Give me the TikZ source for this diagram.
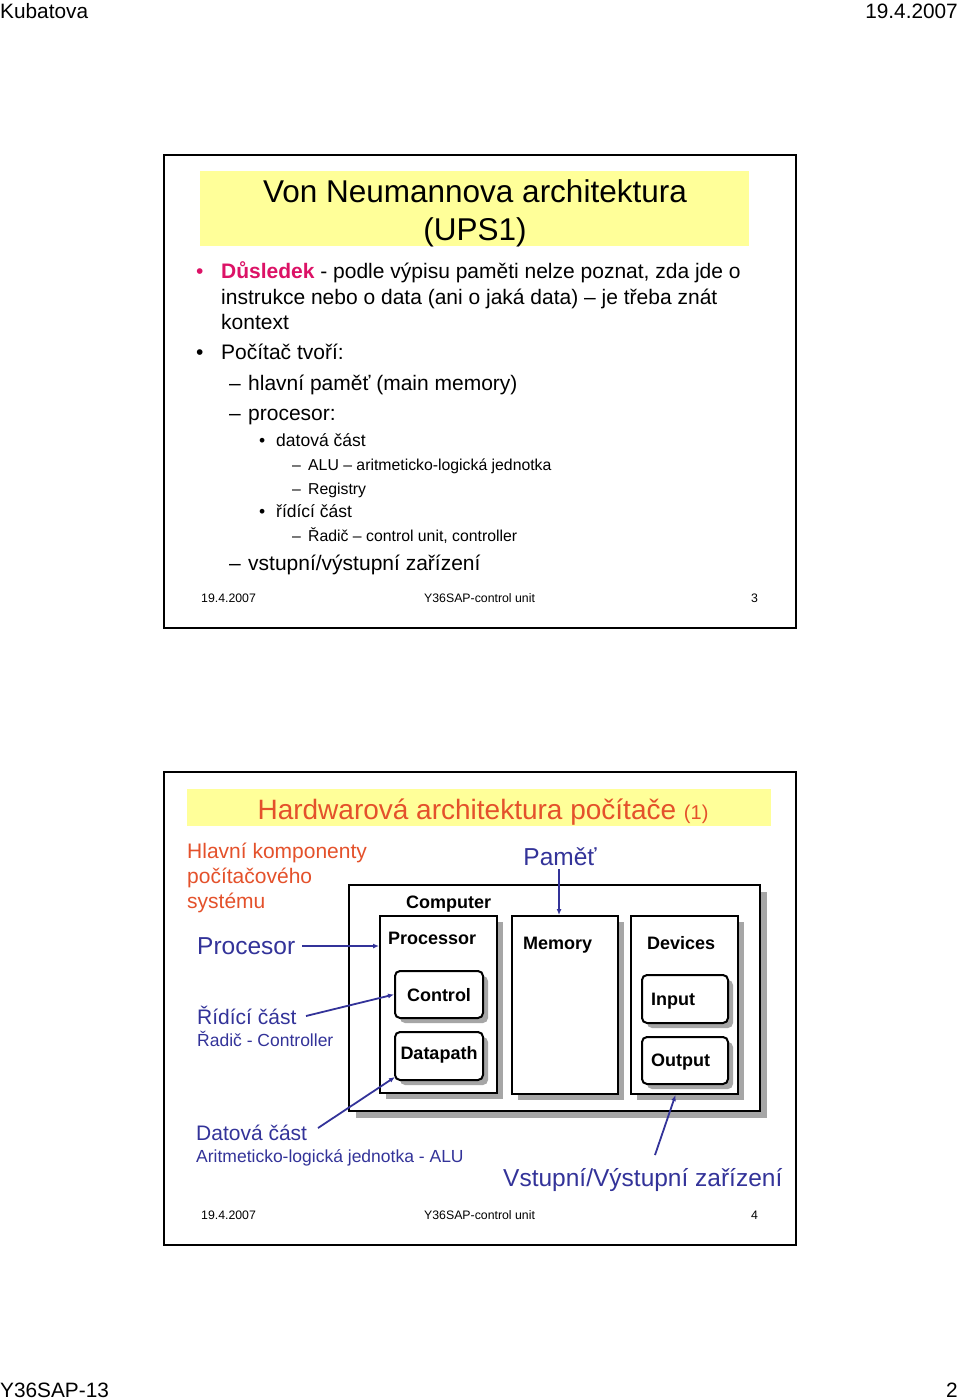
\documentclass[tikz,border=0pt]{standalone}
\usepackage{fontspec}
\setmainfont{Liberation Sans}
\usetikzlibrary{arrows.meta,shadows,calc}
\definecolor{ttlyellow}{HTML}{FFFF99}
\definecolor{hotpink}{HTML}{DC1266}
\definecolor{orangered}{HTML}{E4512B}
\definecolor{navy}{HTML}{333399}
\definecolor{shadowgray}{HTML}{A6A6A6}
\begin{document}
\begin{tikzpicture}[x=1pt,y=-1pt,
  txt/.style={anchor=base west,inner sep=0pt},
  ctxt/.style={anchor=base,inner sep=0pt},
  rtxt/.style={anchor=base east,inner sep=0pt},
  fs/.style={font=\fontsize{#1}{#1}\selectfont},
  bfs/.style={font=\fontsize{#1}{#1}\selectfont\bfseries},
  frame/.style={draw=black,line width=2pt,fill=white,inner sep=0pt},
  ybar/.style={fill=ttlyellow,draw=none,inner sep=0pt},
  bigbox/.style={draw=black,line width=2pt,fill=white,inner sep=0pt,
    drop shadow={shadow xshift=7pt,shadow yshift=-7pt,fill=shadowgray,opacity=1}},
  midbox/.style={draw=black,line width=2pt,fill=white,inner sep=0pt,
    drop shadow={shadow xshift=6pt,shadow yshift=-6pt,fill=shadowgray,opacity=1}},
  rbox/.style={draw=black,line width=2pt,fill=white,inner sep=0pt,rounded corners=5pt,
    drop shadow={shadow xshift=5pt,shadow yshift=-5pt,fill=shadowgray,opacity=1}},
  arr/.style={draw=navy,line width=1.8pt,-{Latex[length=6pt,width=5pt]}}
]
\useasboundingbox (0,0) rectangle (960,1399);
\fill[white] (0,0) rectangle (960,1399);

% page header / footer
\node[txt,fs=20.8] (hk) at (0,19) {Kubatova};
\node[rtxt,fs=20.8] (hd) at (958,19) {19.4.2007};
\node[txt,fs=20.8] (fy) at (0,1397) {Y36SAP-13};
\node[rtxt,fs=20.8] (fp) at (958,1397) {2};

% ---------------- slide 1 ----------------
\node[frame,minimum width=632,minimum height=473] (s1) at (480,391.5) {};
\node[ybar,minimum width=549,minimum height=75] (t1bg) at (474.5,208.5) {};
\node[ctxt,fs=31.5] (t1a) at (475,202) {Von Neumannova architektura};
\node[ctxt,fs=31.5] (t1b) at (475,240) {(UPS1)};

\node[txt,fs=21,text=hotpink] (b1) at (196,278) {•};
\node[txt,fs=21] (l1) at (221,278) {\textcolor{hotpink}{\bfseries Důsledek} - podle výpisu paměti nelze poznat, zda jde o};
\node[txt,fs=21] (l2) at (221,304) {instrukce nebo o data (ani o jaká data) – je třeba znát};
\node[txt,fs=21] (l3) at (221,329) {kontext};
\node[txt,fs=21] (b2) at (196,359) {•};
\node[txt,fs=21] (l4) at (221,359) {Počítač tvoří:};
\node[txt,fs=21] (d1) at (229,390) {–};
\node[txt,fs=21] (l5) at (248,390) {hlavní paměť (main memory)};
\node[txt,fs=21] (d2) at (229,420) {–};
\node[txt,fs=21] (l6) at (248,420) {procesor:};
\node[txt,fs=17.5] (sb1) at (259,446) {•};
\node[txt,fs=17.5] (l7) at (276,446) {datová část};
\node[txt,fs=15.8] (sd1) at (292,470) {–};
\node[txt,fs=15.8] (l8) at (308,470) {ALU – aritmeticko-logická jednotka};
\node[txt,fs=15.8] (sd2) at (292,494) {–};
\node[txt,fs=15.8] (l9) at (308,494) {Registry};
\node[txt,fs=17.5] (sb2) at (259,517) {•};
\node[txt,fs=17.5] (l10) at (276,517) {řídící část};
\node[txt,fs=15.8] (sd3) at (292,541) {–};
\node[txt,fs=15.8] (l11) at (308,541) {Řadič – control unit, controller};
\node[txt,fs=21] (d3) at (229,570) {–};
\node[txt,fs=21] (l12) at (248,570) {vstupní/výstupní zařízení};

\node[txt,fs=12.3] (f1a) at (201,602) {19.4.2007};
\node[txt,fs=12.3] (f1b) at (424,602) {Y36SAP-control unit};
\node[txt,fs=12.3] (f1c) at (751,602) {3};

% ---------------- slide 2 ----------------
\node[frame,minimum width=632,minimum height=473] (s2) at (480,1008.5) {};
\node[ybar,minimum width=584,minimum height=37] (t2bg) at (479,807.5) {};
\node[ctxt,fs=28,text=orangered] (t2) at (483,819) {Hardwarová architektura počítače {\fontsize{20}{20}\selectfont (1)}};

\node[txt,fs=21,text=orangered] (h1) at (187,858) {Hlavní komponenty};
\node[txt,fs=21,text=orangered] (h2) at (187,883) {počítačového};
\node[txt,fs=21,text=orangered] (h3) at (187,908) {systému};

\node[txt,fs=24.5,text=navy] (procl) at (197,954) {Procesor};
\node[txt,fs=21,text=navy] (ridl) at (197,1024) {Řídící část};
\node[txt,fs=17.5,text=navy] (radl) at (197,1046) {Řadič - Controller};
\node[txt,fs=21,text=navy] (datl) at (196,1140) {Datová část};
\node[txt,fs=17.5,text=navy] (alul) at (196,1162) {Aritmeticko-logická jednotka - ALU};
\node[ctxt,fs=24.5,text=navy] (paml) at (560,865) {Paměť};
\node[txt,fs=24.5,text=navy] (vsl) at (503,1186) {Vstupní/Výstupní zařízení};

% diagram
\node[bigbox,minimum width=411,minimum height=226] (comp) at (554.5,998) {};
\node[midbox,minimum width=117,minimum height=177] (proc) at (438.5,1004.5) {};
\node[midbox,minimum width=106,minimum height=178] (mem) at (565,1005) {};
\node[midbox,minimum width=107,minimum height=178] (dev) at (684.5,1005) {};
\node[rbox,minimum width=88,minimum height=47] (ctrl) at (439,994.5) {};
\node[rbox,minimum width=88,minimum height=48] (dp) at (439,1056) {};
\node[rbox,minimum width=86,minimum height=48] (inp) at (685,999) {};
\node[rbox,minimum width=86,minimum height=47] (outp) at (685,1060.5) {};

\node[txt,bfs=18] (compl) at (406,908) {Computer};
\node[txt,bfs=18] (procn) at (388,944) {Processor};
\node[txt,bfs=18] (memn) at (523,949) {Memory};
\node[txt,bfs=18] (devn) at (647,949) {Devices};
\node[ctxt,bfs=18] (ctrln) at (439,1001) {Control};
\node[ctxt,bfs=18] (dpn) at (439,1059) {Datapath};
\node[txt,bfs=18] (inpn) at (651,1005) {Input};
\node[txt,bfs=18] (outpn) at (651,1066) {Output};

% connectors
\coordinate (a1s) at (302,946);
\draw[arr] (a1s) -- (a1s -| proc.west);
\coordinate (a2s) at (306,1016);
\draw[arr] (a2s) -- (ctrl.west);
\coordinate (a3s) at (318,1128);
\draw[arr] (a3s) -- ($(dp.south west)+(1,-4)$);
\coordinate (a4s) at ($(paml.south)+(-1,4)$);
\draw[arr,line width=1.5pt] (a4s) -- (a4s |- mem.north);
\coordinate (a5s) at (655,1155);
\draw[arr] (a5s) -- ($(dev.south)+(-9,0)$);

\node[txt,fs=12.3] (f2a) at (201,1219) {19.4.2007};
\node[txt,fs=12.3] (f2b) at (424,1219) {Y36SAP-control unit};
\node[txt,fs=12.3] (f2c) at (751,1219) {4};
\end{tikzpicture}
\end{document}
